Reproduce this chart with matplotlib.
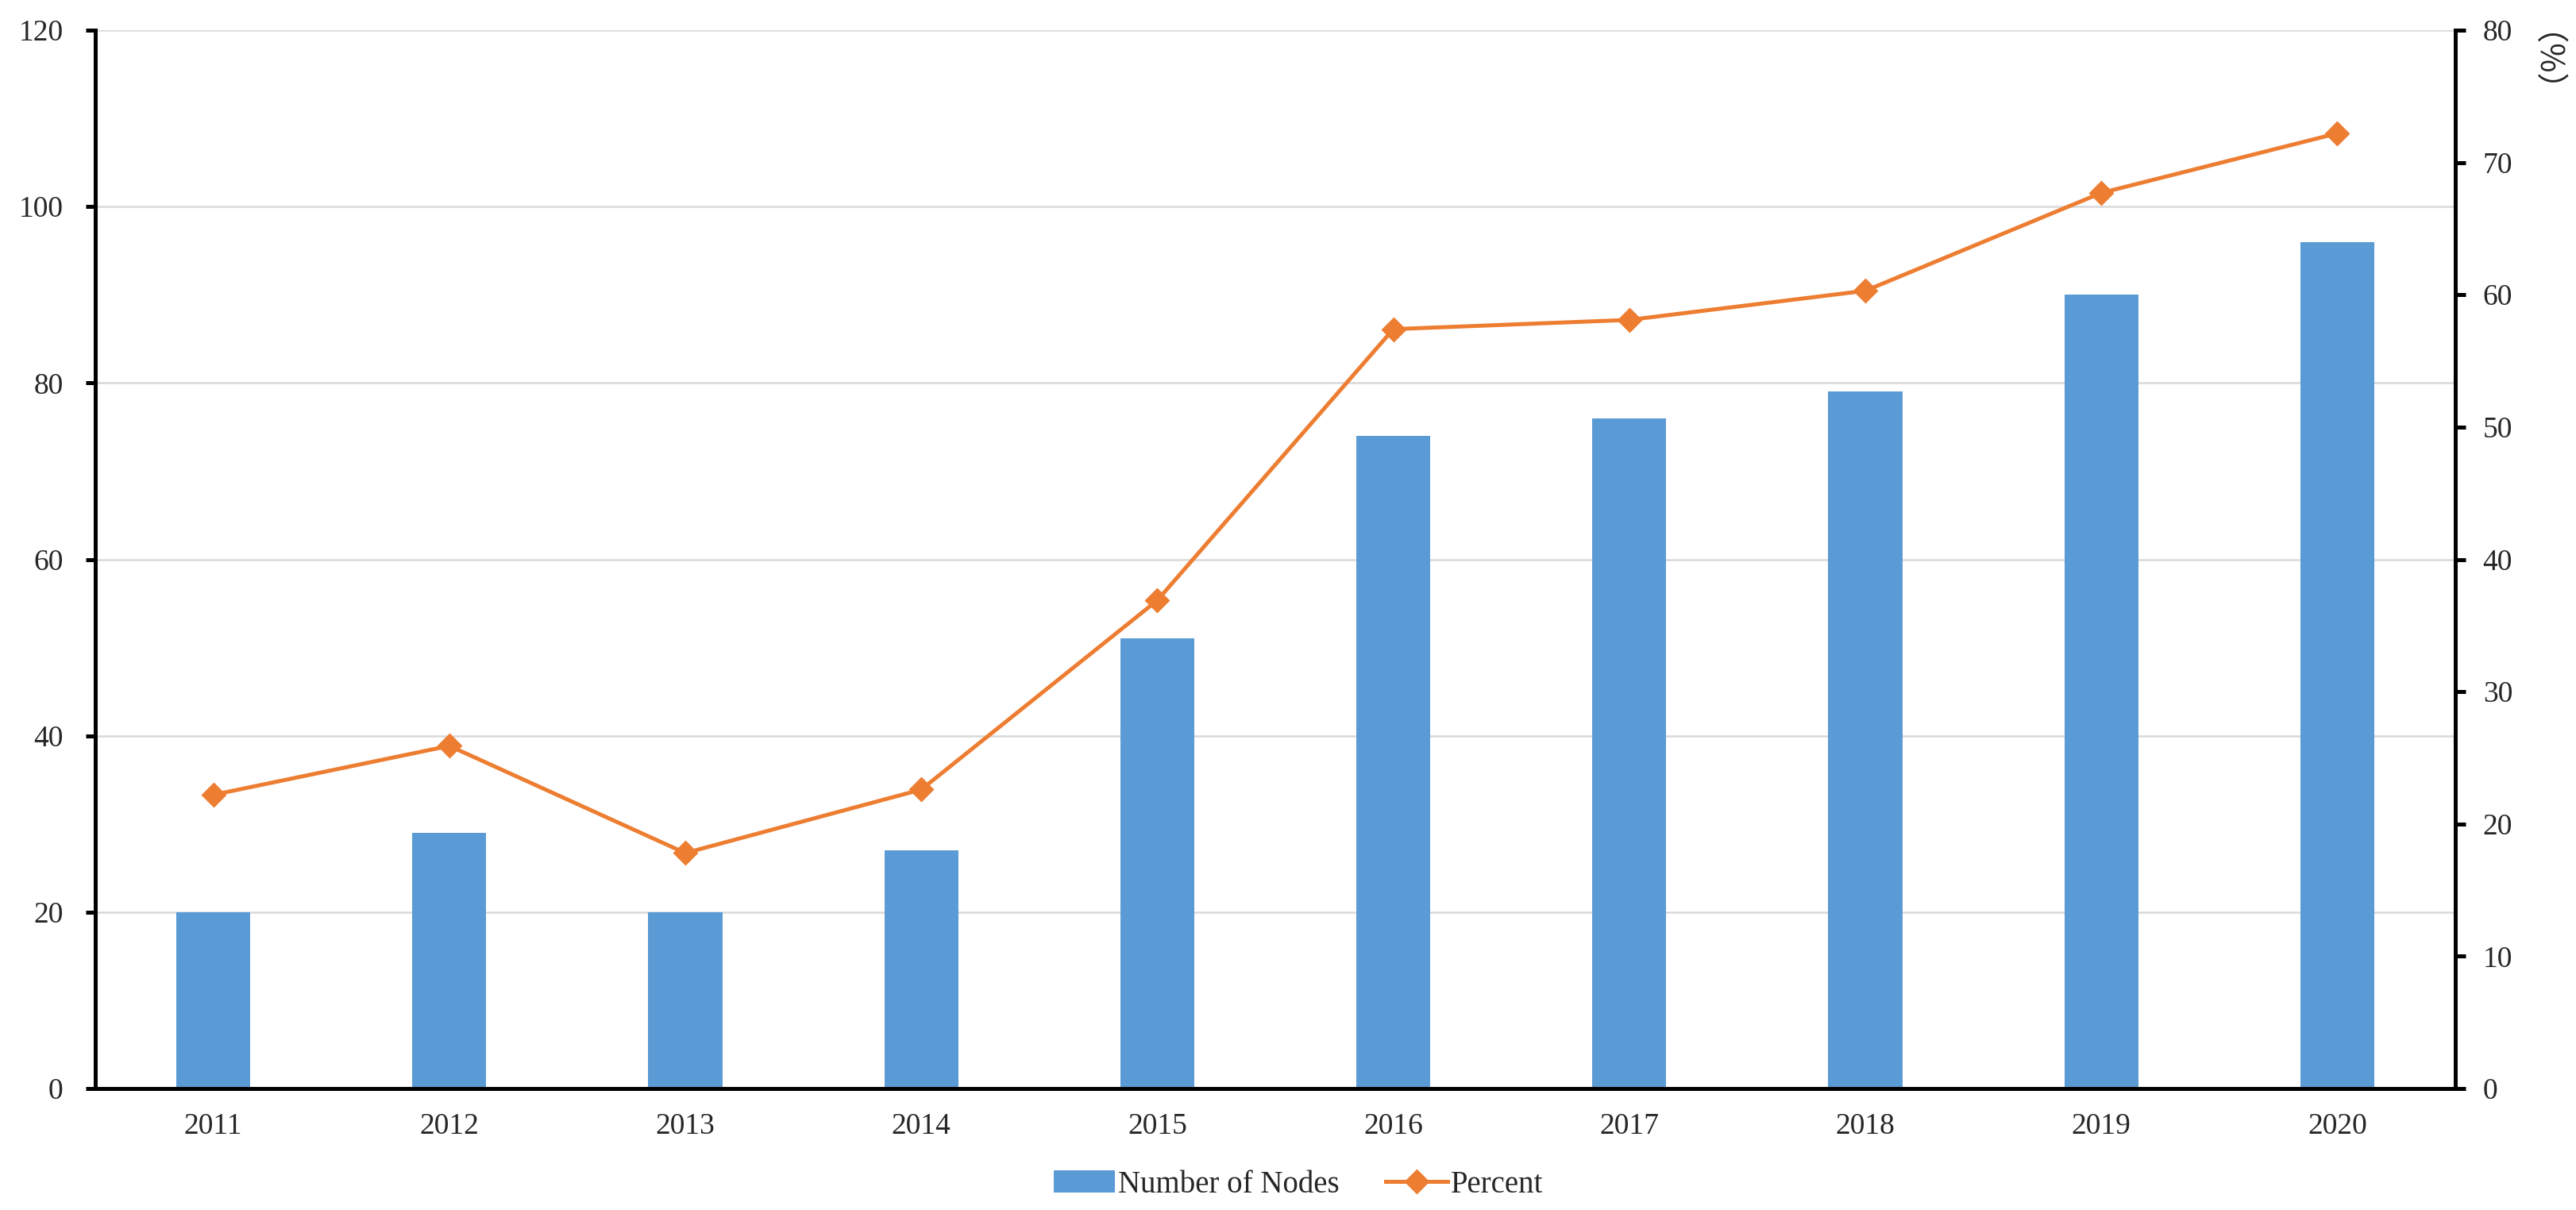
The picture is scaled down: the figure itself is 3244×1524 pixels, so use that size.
import matplotlib
matplotlib.use("Agg")
from matplotlib import pyplot as plt
import numpy as np

# data
years = ['2011', '2012', '2013', '2014', '2015', '2016', '2017', '2018', '2019', '2020']
nodes = [20, 29, 20, 27, 51, 74, 76, 79, 90, 96]
percent = [22.2, 25.9, 17.8, 22.6, 36.9, 57.4, 58.1, 60.3, 67.7, 72.2]

plt.rcParams['font.family'] = ['Liberation Serif', 'Noto Sans CJK SC']

bar_color = '#5B9BD5'
line_color = '#ED7D31'

fig = plt.figure(figsize=(16.22, 7.62), dpi=200)
ax = fig.add_axes([120/3244, 1 - 1371/1524, (3092 - 120)/3244, (1371 - 38)/1524])
ax2 = ax.twinx()

x = np.arange(len(years))
bars = ax.bar(x, nodes, width=0.313, color=bar_color, zorder=2, label='Number of Nodes')
line, = ax2.plot(x, percent, color=line_color, linewidth=1.8, marker='D', markersize=7,
                 zorder=3, label='Percent')

ax.set_xlim(-0.5, len(years) - 0.5)
ax.set_ylim(0, 120)
ax.set_yticks(np.arange(0, 121, 20))
ax2.set_ylim(0, 80)
ax2.set_yticks(np.arange(0, 81, 10))

ax.set_xticks(x)
ax.set_xticklabels(years)

# gridlines from left axis
ax.yaxis.grid(True, color='#d9d9d9', linewidth=0.9, zorder=0)
ax.set_axisbelow(True)

for a in (ax, ax2):
    a.spines['top'].set_visible(False)
    for s in ('left', 'right', 'bottom'):
        a.spines[s].set_linewidth(1.8)
        a.spines[s].set_color('black')
ax2.spines['left'].set_visible(False)
ax2.spines['bottom'].set_visible(False)

ax.tick_params(axis='x', length=0, pad=11, labelsize=13.5, colors='#262626')
ax.tick_params(axis='y', direction='out', length=4.5, width=1.8, pad=10, labelsize=13.5,
               labelcolor='#262626')
ax2.tick_params(axis='y', direction='out', length=4.5, width=1.8, pad=8, labelsize=13.5,
                labelcolor='#262626')

# unit label for the right axis, reading top to bottom
fig.text(3182/3244, 1 - 100/1524, '（%）', rotation=270, ha='center', va='center',
         fontsize=14.5, color='#262626', family=['Noto Sans CJK SC', 'Liberation Serif'])

fig.legend(handles=[bars, line], labels=['Number of Nodes', 'Percent'],
           loc='center', bbox_to_anchor=(1635/3244, 1 - 1492/1524), ncol=2,
           frameon=False, fontsize=14, handlelength=2.0, handletextpad=0.1,
           columnspacing=1.5, labelcolor='#262626')

fig.savefig('out.png', dpi=200, facecolor='white')
